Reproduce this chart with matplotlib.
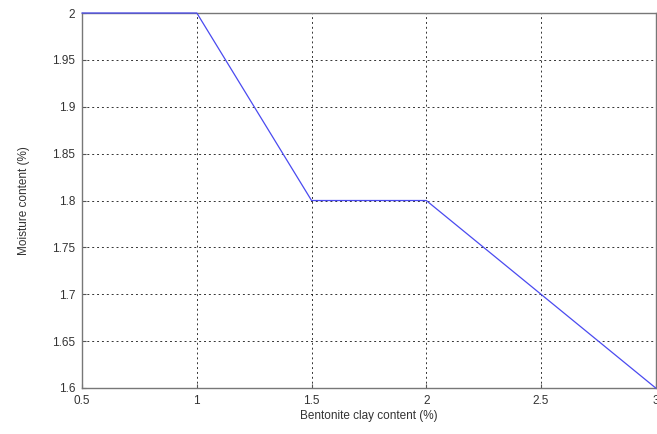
import numpy as np
import matplotlib
matplotlib.use('Agg')
import matplotlib.pyplot as plt

# bentonite clay content (%) vs moisture content (%)
clay = [0.5, 1.0, 1.5, 2.0, 2.5, 3.0]
moisture = [2.0, 2.0, 1.8, 1.8, 1.7, 1.6]

xticks = [0.5, 1, 1.5, 2, 2.5, 3]
xlabels = ['0.5', '1', '1.5', '2', '2.5', '3']
yticks = [1.6, 1.65, 1.7, 1.75, 1.8, 1.85, 1.9, 1.95, 2.0]
ylabels = ['1.6', '1.65', '1.7', '1.75', '1.8', '1.85', '1.9', '1.95', '2']

plt.rcParams['font.family'] = ['Liberation Sans', 'DejaVu Sans']

fig = plt.figure(figsize=(6.57, 4.34), dpi=100)
ax = fig.add_axes([0.125, 0.106, 0.873, 0.864])

ax.plot(clay, moisture, color='#4a4af0', lw=0.9, clip_on=False, zorder=5)

ax.set_xlim(0.5, 3)
ax.set_ylim(1.6, 2.0)
ax.set_xticks(xticks)
ax.set_xticklabels(xlabels)
ax.set_yticks(yticks)
ax.set_yticklabels(ylabels)
ax.grid(True, color='black', linestyle=(0, (2, 3)), lw=0.7, alpha=0.8)
ax.tick_params(labelsize=8.5, direction='in', length=3, color='#555555', pad=5,
               labelcolor='#333333')
for s in ax.spines.values():
    s.set_color('#777777')
    s.set_linewidth(1.0)

ax.set_xlabel('Bentonite clay content (%)', fontsize=8.5, labelpad=2, color='#333333')
ax.set_ylabel('Moisture content (%)', fontsize=8.5, labelpad=16, color='#333333')

plt.savefig('out.png', dpi=100)
